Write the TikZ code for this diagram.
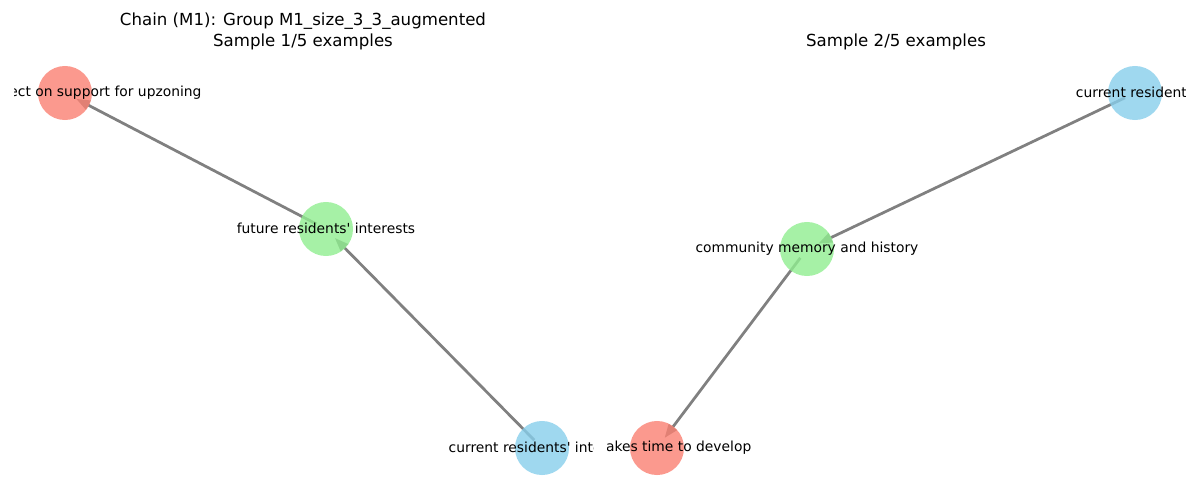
\documentclass[tikz,border=0pt]{standalone}
\usepackage{fontspec}
\setmainfont{DejaVu Sans}
\usetikzlibrary{arrows.meta}
\definecolor{salmonc}{HTML}{FA8072}
\definecolor{skyc}{HTML}{87CEEB}
\definecolor{greenc}{HTML}{90EE90}
\definecolor{edgec}{HTML}{808080}
\tikzset{
  vert/.style={circle, minimum size=0.54in, inner sep=0pt, fill opacity=0.8, draw=none},
  lbl/.style={inner sep=0pt, font=\fontsize{10}{12}\selectfont, text=black},
  ttl/.style={inner sep=0pt, font=\fontsize{12}{14.4}\selectfont, align=center},
  link/.style={draw=edgec, line width=2pt, -{Triangle[length=10pt,width=7pt]},
    shorten >=9pt, shorten <=8pt}
}
\newcommand{\apos}{\textquotesingle}
\begin{document}
\begin{tikzpicture}[x=0.01in, y=-0.01in]
\useasboundingbox (0,0) rectangle (1200,500);

% titles
\node[ttl] (t1a) at (303,21) {Chain (M1): Group M1\_size\_3\_3\_augmented};
\node[ttl] (t1b) at (303,42) {Sample 1/5 examples};
\node[ttl] (t2) at (896,42) {Sample 2/5 examples};

% node positions
\coordinate (pA) at (65,93);
\coordinate (pB) at (326,229);
\coordinate (pC) at (542,448);
\coordinate (pD) at (1135,93);
\coordinate (pE) at (807,249);
\coordinate (pF) at (657,448);

% connectors (drawn beneath the translucent nodes)
\draw[link] (pC) -- (pB);
\draw[link] (pB) -- (pA);
\draw[link] (pD) -- (pE);
\draw[link] (pE) -- (pF);

% nodes
\node[vert, fill=salmonc] (a) at (pA) {};
\node[vert, fill=greenc] (b) at (pB) {};
\node[vert, fill=skyc] (c) at (pC) {};
\node[vert, fill=skyc] (d) at (pD) {};
\node[vert, fill=greenc] (e) at (pE) {};
\node[vert, fill=salmonc] (f) at (pF) {};

% labels, clipped to each panel
\begin{scope}
  \clip (14,0) rectangle (593,500);
  \node[lbl] (la) at ([yshift=0.5pt]a.center) {Salience effect on support for upzoning};
  \node[lbl] (lb) at ([yshift=0.5pt]b.center) {future residents\apos{} interests};
  \node[lbl] (lc) at ([yshift=0.5pt]c.center) {current residents\apos{} interests};
\end{scope}
\begin{scope}
  \clip (607,0) rectangle (1185,500);
  \node[lbl] (ld) at ([yshift=0.5pt]d.center) {current residents};
  \node[lbl] (le) at ([yshift=0.5pt]e.center) {community memory and history};
  \node[lbl] (lf) at ([yshift=0.5pt]f.center) {Trust takes time to develop};
\end{scope}
\end{tikzpicture}
\end{document}
